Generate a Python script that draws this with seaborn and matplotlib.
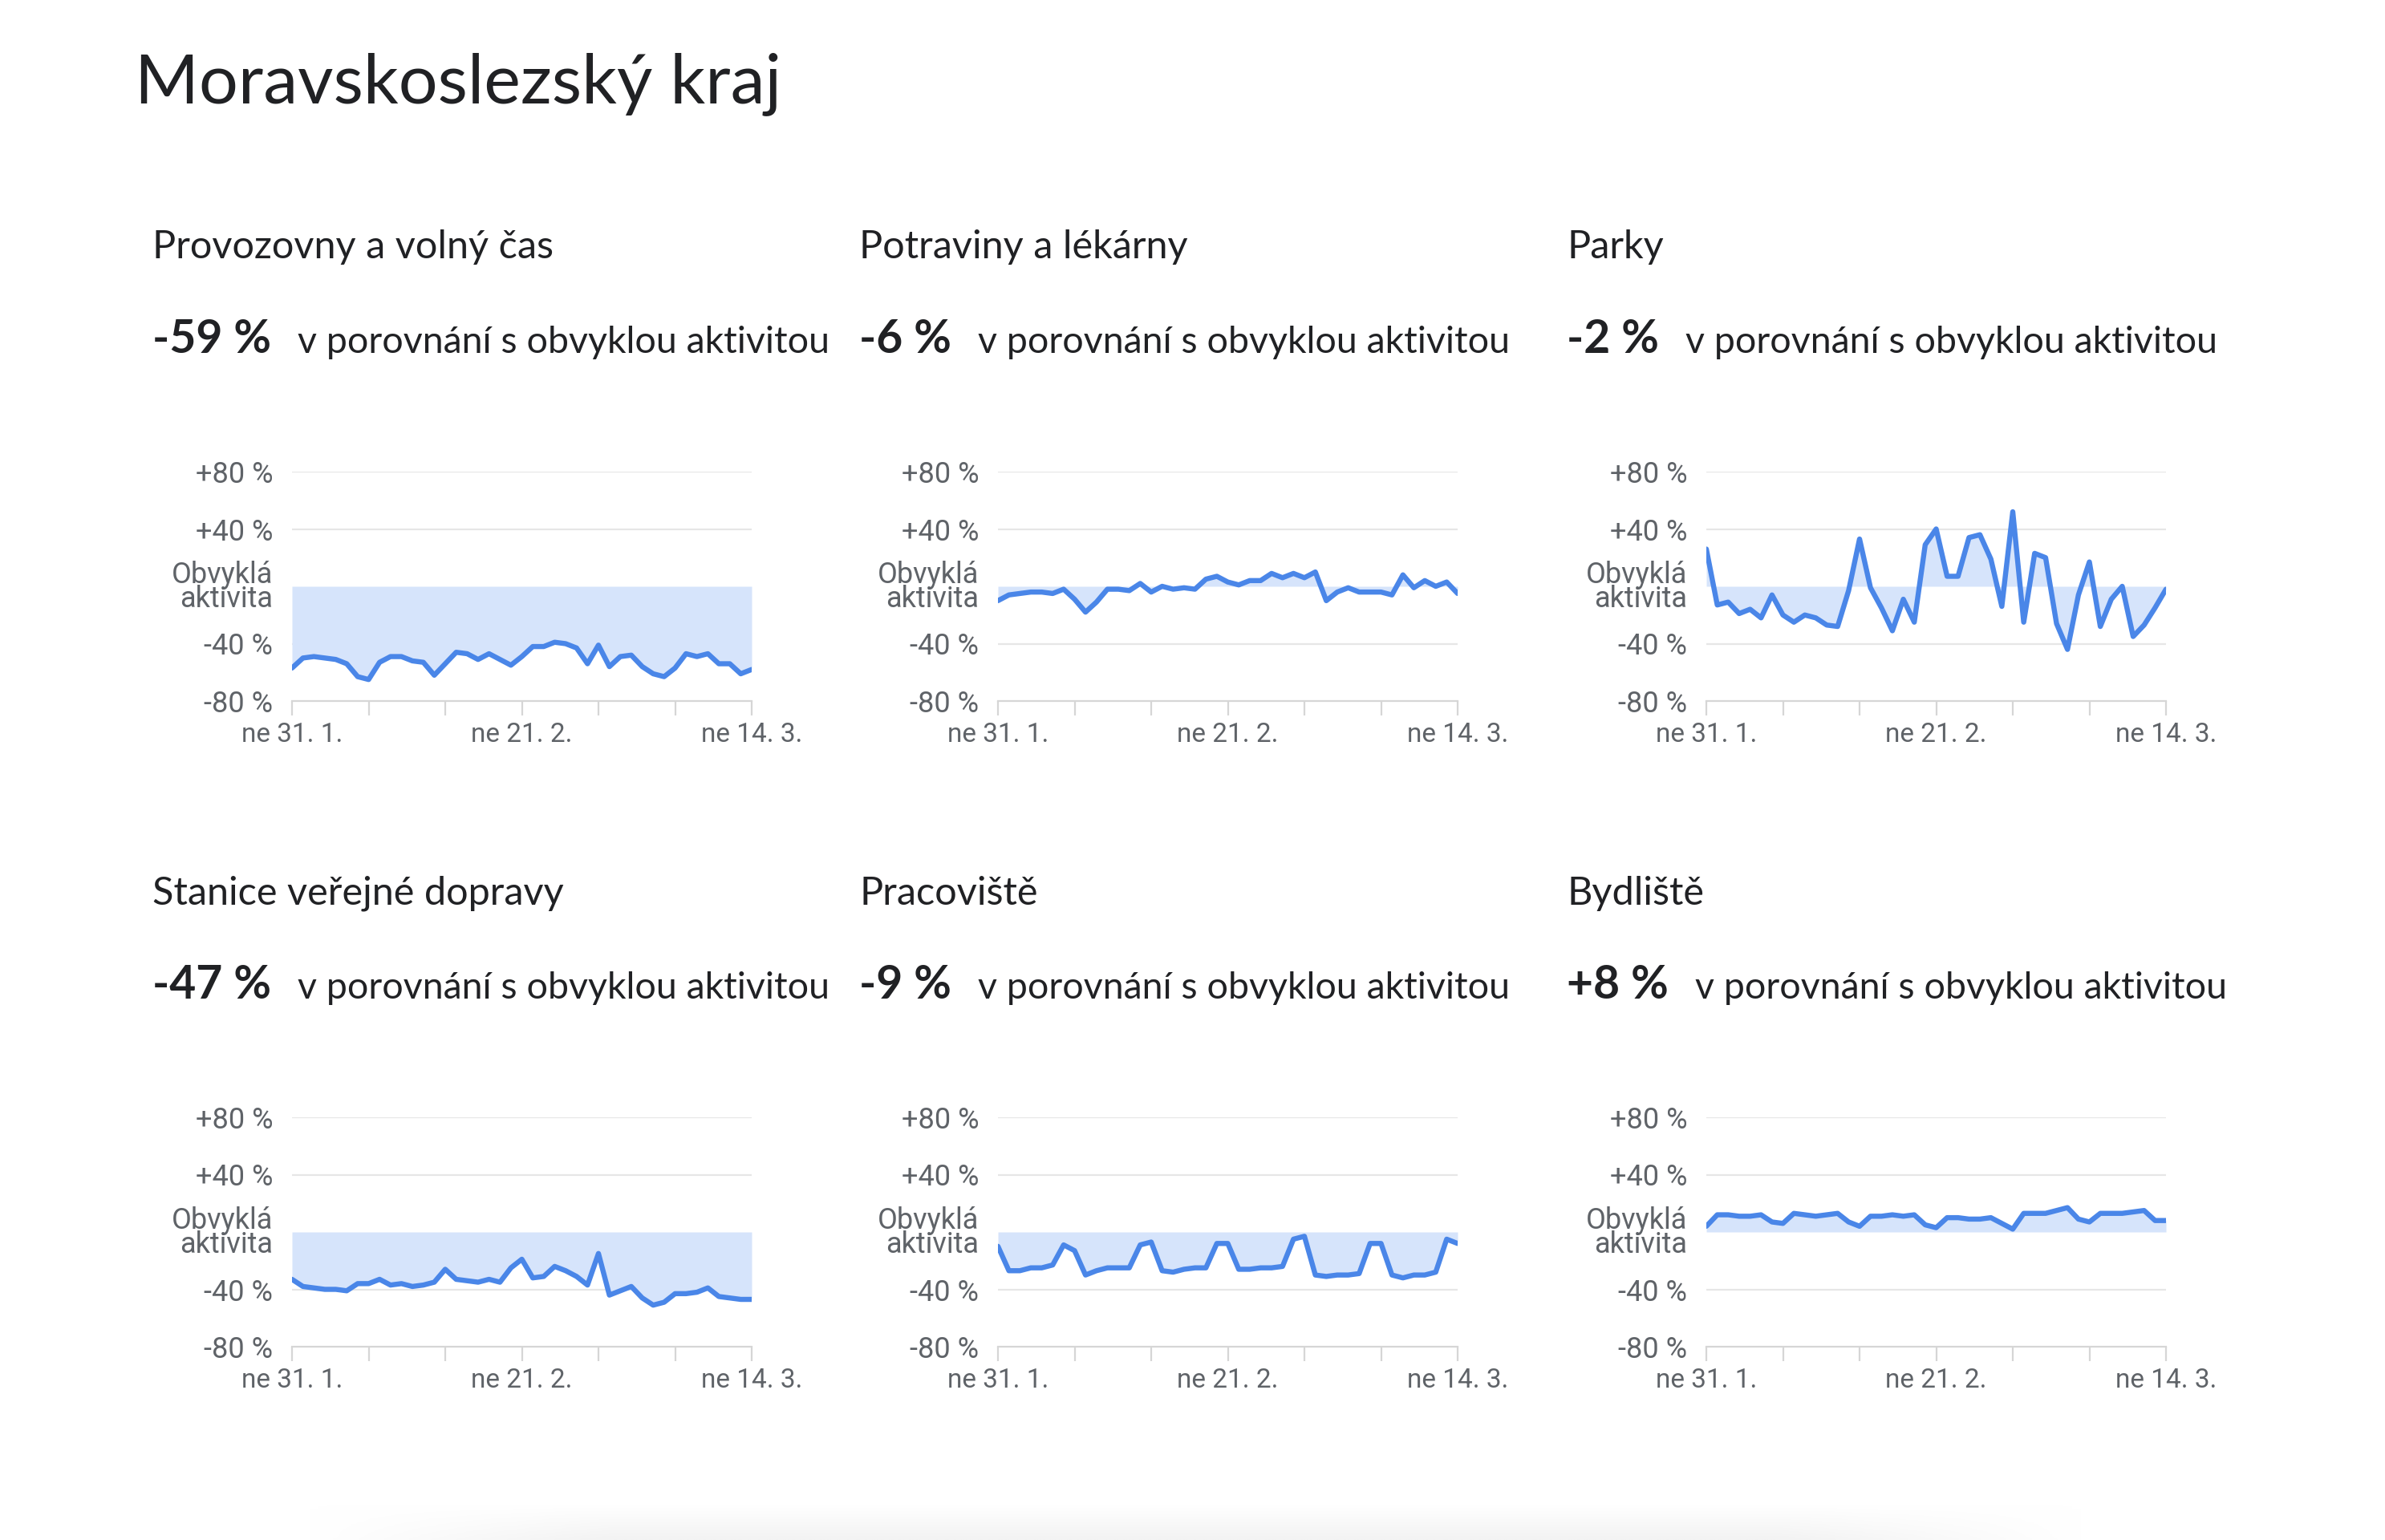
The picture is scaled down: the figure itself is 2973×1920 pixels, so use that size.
import matplotlib
matplotlib.use("Agg")
import matplotlib.pyplot as plt
from matplotlib.colors import LinearSegmentedColormap
import seaborn as sns
import numpy as np

# days from Sun 31 Jan to Sun 14 Mar (43 daily points)
days = list(range(43))
week_ticks = [0, 7, 14, 21, 28, 35, 42]
week_labels = ["ne 31. 1.", "", "", "ne 21. 2.", "", "", "ne 14. 3."]
y_ticks = [80, 40, 0, -40, -80]
y_labels = ["+80 %", "+40 %", "Obvyklá\naktivita", "-40 %", "-80 %"]

region = "Moravskoslezský kraj"
titles = ["Provozovny a volný čas", "Potraviny a lékárny", "Parky",
          "Stanice veřejné dopravy", "Pracoviště", "Bydliště"]
headline = ["-59 %", "-6 %", "-2 %", "-47 %", "-9 %", "+8 %"]
subtext = "v porovnání s obvyklou aktivitou"

retail = [-57, -50, -49, -50, -51, -54, -63, -65, -53, -49, -49, -52, -53, -62, -54,
          -46, -47, -51, -47, -51, -55, -49, -42, -42, -39, -40, -43, -54, -41, -56,
          -49, -48, -56, -61, -63, -57, -47, -49, -47, -54, -54, -61, -58]
grocery = [-10, -6, -5, -4, -4, -5, -2, -9, -18, -11, -2, -2, -3, 2, -4,
           0, -2, -1, -2, 5, 7, 3, 1, 4, 4, 9, 6, 9, 6, 10,
           -10, -4, -1, -4, -4, -4, -6, 8, -1, 4, 0, 3, -5]
parks = [26, -13, -11, -19, -16, -22, -6, -20, -25, -20, -22, -27, -28, -3, 33,
         -1, -15, -31, -9, -25, 29, 40, 7, 7, 34, 36, 19, -14, 52, -25,
         23, 20, -26, -44, -6, 17, -28, -9, 0, -35, -27, -15, -2]
transit = [-33, -38, -39, -40, -40, -41, -36, -36, -33, -37, -36, -38, -37, -35, -26,
           -33, -34, -35, -33, -35, -25, -19, -32, -31, -24, -27, -31, -37, -15, -44,
           -41, -38, -46, -51, -49, -43, -43, -42, -39, -45, -46, -47, -47]
workplaces = [-10, -27, -27, -25, -25, -23, -9, -13, -30, -27, -25, -25, -25, -9, -7,
              -27, -28, -26, -25, -25, -8, -8, -26, -26, -25, -25, -24, -5, -3, -30,
              -31, -30, -30, -29, -8, -8, -30, -32, -30, -30, -28, -5, -8]
residential = [4, 12, 12, 11, 11, 12, 7, 6, 13, 12, 11, 12, 13, 7, 4,
               11, 11, 12, 11, 12, 5, 3, 10, 10, 9, 9, 10, 6, 2, 13,
               13, 13, 15, 17, 9, 7, 13, 13, 13, 14, 15, 8, 8]
series = [retail, grocery, parks, transit, workplaces, residential]

LINE = "#4a86e8"
FILL = "#d6e4fb"
GRID = "#e6e6e6"
TXT = "#202124"
TICK = "#5f6368"
HEAD_FONT = ["Lato", "DejaVu Sans"]

sns.set_theme(style="white")
plt.rcParams["font.family"] = ["Roboto", "DejaVu Sans"]

W, H = 2973, 1920
fig = plt.figure(figsize=(W / 100, H / 100), dpi=100)
fig.patch.set_facecolor("white")


def fx(x):
    return x / W


def fy(y):
    return 1 - y / H


fig.text(fx(168), fy(128), region, fontsize=62, color=TXT,
         family=HEAD_FONT, va="baseline")

col_x = [190, 1071, 1953]
ax_left = [364, 1244, 2127]
row_title_y = [322, 1128]
row_head_y = [440, 1245]
ax_top = [588, 1393]
ax_h = 286
ax_w = 573

fig.canvas.draw()
renderer = fig.canvas.get_renderer()

for i, vals in enumerate(series):
    r, c = divmod(i, 3)
    fig.text(fx(col_x[c]), fy(row_title_y[r]), titles[i], fontsize=35, color=TXT,
             family=HEAD_FONT, va="baseline")
    t = fig.text(fx(col_x[c]), fy(row_head_y[r]), headline[i], fontsize=41,
                 fontweight="bold", color=TXT, family=HEAD_FONT, va="baseline")
    bb = t.get_window_extent(renderer=renderer)
    fig.text(fx(bb.x1 + 33), fy(row_head_y[r]), subtext, fontsize=33.5, color=TXT,
             family=HEAD_FONT, va="baseline")

    ax = fig.add_axes([fx(ax_left[c]), fy(ax_top[r] + ax_h), fx(ax_w), ax_h / H])
    ax.fill_between(days, vals, 0, color=FILL, linewidth=0, zorder=1)
    sns.lineplot(x=days, y=vals, ax=ax, color=LINE, linewidth=4.6, zorder=3)
    for g in [80, 40, -40]:
        ax.axhline(g, color=GRID, linewidth=1.6, zorder=0)
    ax.set_xlim(0, 42)
    ax.set_ylim(-80, 80)
    ax.set_yticks(y_ticks)
    ax.set_yticklabels(y_labels, fontsize=26, color=TICK, linespacing=0.8)
    ax.set_xticks(week_ticks)
    ax.set_xticklabels(week_labels, fontsize=24, color=TICK)
    ax.tick_params(axis="y", length=0, pad=17)
    ax.tick_params(axis="x", length=13, width=1.6, color="#d6d6d6", pad=6,
                   direction="out", bottom=True)
    for lab in ax.get_yticklabels():
        lab.set_horizontalalignment("right")
        lab.set_multialignment("right")
    for s in ["top", "right", "left"]:
        ax.spines[s].set_visible(False)
    ax.spines["bottom"].set_color("#d6d6d6")
    ax.spines["bottom"].set_linewidth(1.6)
    ax.set_xlabel("")
    ax.set_ylabel("")
    ax.set_facecolor("none")

# faint shadow of the page card at the bottom edge
shade = fig.add_axes([fx(380), 0, fx(2220), 45 / H])
ramp_v = np.linspace(0, 1, 20)[:, None]
ramp_h = np.clip(np.minimum(np.linspace(0, 1, 200), np.linspace(1, 0, 200)) * 6, 0, 1)[None, :]
grad_cmap = LinearSegmentedColormap.from_list("shade", ["#ffffff", "#f3f3f3"])
shade.imshow(ramp_v * ramp_h, cmap=grad_cmap, aspect="auto", origin="upper",
             vmin=0, vmax=1)
shade.axis("off")

fig.savefig("out.png", dpi=100, facecolor="white")
